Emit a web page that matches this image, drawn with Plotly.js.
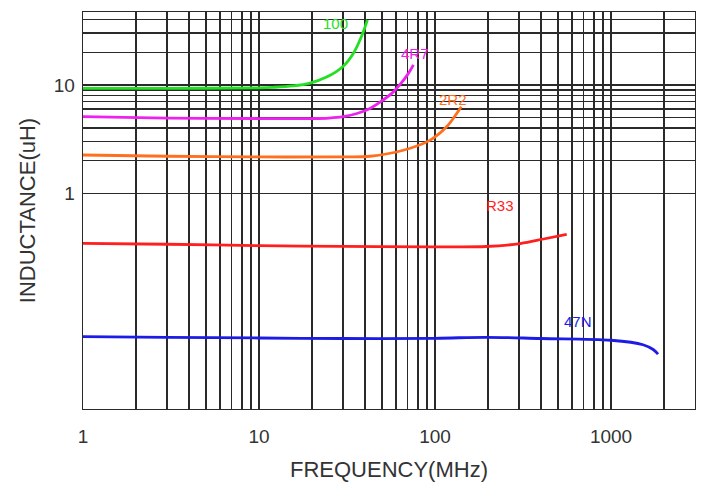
<!DOCTYPE html>
<html><head><meta charset="utf-8">
<script src="https://cdn.plot.ly/plotly-3.0.1.min.js"></script>
<style>html,body{margin:0;padding:0;background:#fff}#c{width:702px;height:484px}</style>
</head><body><div id="c"></div>
<script>
// Frequency (MHz) and inductance (uH)
const f100 = [1, 3, 10, 12, 15.6, 19.5, 24.2, 30, 34.4, 38.2, 41.3];
const L100 = [9.3, 9.3, 9.4, 9.5, 9.8, 10.4, 11.8, 14.8, 19.6, 27.9, 39.8];
const f4R7 = [1, 3, 10, 20, 25, 30, 36, 43, 51, 57, 63, 70, 75.4];
const L4R7 = [5.1, 4.95, 4.9, 4.9, 4.95, 5.1, 5.45, 6.1, 7.3, 8.4, 10, 12.5, 15.3];
const f2R2 = [1, 3, 10, 30, 42.8, 66, 93.9, 116.7, 135, 141];
const L2R2 = [2.26, 2.2, 2.17, 2.17, 2.2, 2.5, 3.1, 4.13, 5.67, 6.3];
const fR33 = [1, 3, 10, 30, 100, 195, 305, 414, 560];
const LR33 = [0.347, 0.34, 0.33, 0.325, 0.322, 0.324, 0.345, 0.38, 0.42];
const f47N = [1, 3, 10, 30, 100, 195, 400, 1000, 1520, 1736, 1850];
const L47N = [0.0478, 0.0472, 0.0465, 0.046, 0.0462, 0.0472, 0.046, 0.0443, 0.0403, 0.0364, 0.033];

const names = ['100', '4R7', '2R2', 'R33', '47N'];
const colors = ['#22e022', '#ee22ee', '#ff6f1e', '#ff1f1f', '#1c1ce6'];
const labelF = [27.2, 76.9, 125.7, 234, 651];
const labelL = [36.9, 19.5, 7.28, 0.78, 0.0665];

const xTickVals = [1,2,3,4,5,6,7,8,9,10,20,30,40,50,60,70,80,90,100,200,300,400,500,600,700,800,900,1000,2000,3000];
const xTickText = ['1','','','','','','','','','10','','','','','','','','','100','','','','','','','','','1000','',''];
const yTickVals = [1,2,3,4,5,6,7,8,9,10,20,30,40];
const yTickText = ['1','','','','','','','','','10','','',''];

const fs = [f100, f4R7, f2R2, fR33, f47N];
const Ls = [L100, L4R7, L2R2, LR33, L47N];

const traces = fs.map((f, i) => ({
  x: f, y: Ls[i], type: 'scatter', mode: 'lines', name: names[i],
  line: {color: colors[i], width: 2.8, shape: 'spline', smoothing: 1},
  hoverinfo: 'skip'
}));

const annotations = names.map((n, i) => ({
  x: Math.log10(labelF[i]), y: Math.log10(labelL[i]), xref: 'x', yref: 'y',
  text: n, showarrow: false, font: {family: 'Liberation Sans, Arial, sans-serif', size: 15, color: colors[i]}
}));

const gridCol = '#2a2a2a';
const layout = {
  width: 702, height: 484,
  margin: {l: 83, r: 7, t: 12, b: 75},
  paper_bgcolor: '#fff', plot_bgcolor: '#fff',
  showlegend: false,
  font: {family: 'Liberation Sans, Arial, sans-serif', color: '#333'},
  xaxis: {
    type: 'log', range: [0, Math.log10(3000)],
    tickmode: 'array', tickvals: xTickVals, ticktext: xTickText,
    showgrid: true, gridcolor: gridCol, gridwidth: 1.4,
    showline: true, linecolor: gridCol, linewidth: 1.4, mirror: true,
    ticks: '', tickfont: {size: 19, color: '#333'}, ticklabelstandoff: 10,
    title: {text: 'FREQUENCY(MHz)', font: {size: 22, color: '#333'}, standoff: 15}
  },
  yaxis: {
    type: 'log', range: [Math.log10(0.0103), Math.log10(47)],
    tickmode: 'array', tickvals: yTickVals, ticktext: yTickText,
    showgrid: true, gridcolor: gridCol, gridwidth: 1.4,
    showline: true, linecolor: gridCol, linewidth: 1.4, mirror: true,
    ticks: '', tickfont: {size: 19, color: '#333'}, ticklabelstandoff: 3,
    title: {text: 'INDUCTANCE(uH)', font: {size: 22, color: '#333'}, standoff: 12}
  },
  annotations: annotations
};

Plotly.newPlot('c', traces, layout, {staticPlot: true, displayModeBar: false});
</script></body></html>
